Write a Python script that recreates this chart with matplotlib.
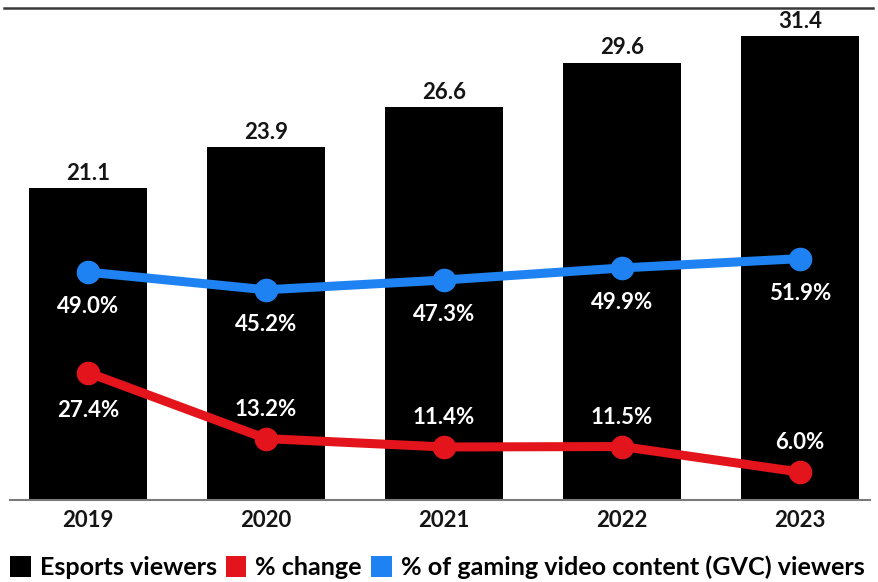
import matplotlib
matplotlib.use("Agg")
import matplotlib.pyplot as plt
from matplotlib.patches import Patch
from matplotlib.lines import Line2D

years = ["2019", "2020", "2021", "2022", "2023"]
viewers = [21.1, 23.9, 26.6, 29.6, 31.4]
pct_change = [27.4, 13.2, 11.4, 11.5, 6.0]
pct_gvc = [49.0, 45.2, 47.3, 49.9, 51.9]

BLUE = "#1f82f2"
RED = "#e3141b"
FONT = "Lato"
LABEL_SIZE = 16

plt.rcParams["font.family"] = [FONT, "DejaVu Sans"]

fig = plt.figure(figsize=(8.79, 5.82), dpi=100)
W, H = 879, 582
ax = fig.add_axes([10 / W, (H - 500) / H, 860 / W, 492 / H])

x = list(range(len(years)))
ax.bar(x, viewers, width=0.66, color="black", zorder=2)
ax.set_xlim(-0.438, 4.393)
ax.set_ylim(0, 33.3)
for xi, v in zip(x, viewers):
    ax.annotate(f"{v:.1f}", (xi, v), xytext=(0, 3), textcoords="offset points",
                ha="center", va="bottom", fontsize=LABEL_SIZE, fontweight="bold",
                color="#151515")

ax.set_xticks(x)
ax.set_xticklabels(years, fontsize=LABEL_SIZE, fontweight="bold", color="#151515")
ax.tick_params(axis="x", length=0, pad=7)
ax.set_yticks([])
for s in ["left", "right", "top"]:
    ax.spines[s].set_visible(False)
ax.spines["bottom"].set_color("#7a7a7a")
ax.spines["bottom"].set_linewidth(1.5)

ax2 = ax.twinx()
ax2.set_ylim(0, 105.8)
ax2.set_yticks([])
for s in ["left", "right", "top", "bottom"]:
    ax2.spines[s].set_visible(False)

ax2.plot(x, pct_gvc, color=BLUE, lw=6.5, marker="o", ms=16, zorder=3,
         solid_capstyle="round")
ax2.plot(x, pct_change, color=RED, lw=6.5, marker="o", ms=16, zorder=3,
         solid_capstyle="round")

for xi, v in zip(x, pct_gvc):
    ax2.annotate(f"{v:.1f}%", (xi, v), xytext=(0, -25), textcoords="offset points",
                 ha="center", va="center", fontsize=LABEL_SIZE, fontweight="bold",
                 color="white")
for i, (xi, v) in enumerate(zip(x, pct_change)):
    dy = -27 if i == 0 else 21
    ax2.annotate(f"{v:.1f}%", (xi, v), xytext=(0, dy), textcoords="offset points",
                 ha="center", va="center", fontsize=LABEL_SIZE, fontweight="bold",
                 color="white")

# top rule
fig.add_artist(Line2D([4 / W, 873 / W], [(H - 8) / H] * 2, color="#3a3a3a", lw=1.8))

handles = [Patch(facecolor="black"), Patch(facecolor=RED), Patch(facecolor=BLUE)]
labels = ["Esports viewers", "% change", "% of gaming video content (GVC) viewers"]
fig.legend(handles, labels, loc="center left", bbox_to_anchor=(10 / W, (H - 567) / H),
           ncol=3, frameon=False, handlelength=0.82, handleheight=0.9,
           handletextpad=0.36, columnspacing=0.36, borderaxespad=0, borderpad=0,
           prop={"family": FONT, "weight": "bold", "size": 18.1})

fig.savefig("out.png", dpi=100, facecolor="white")
